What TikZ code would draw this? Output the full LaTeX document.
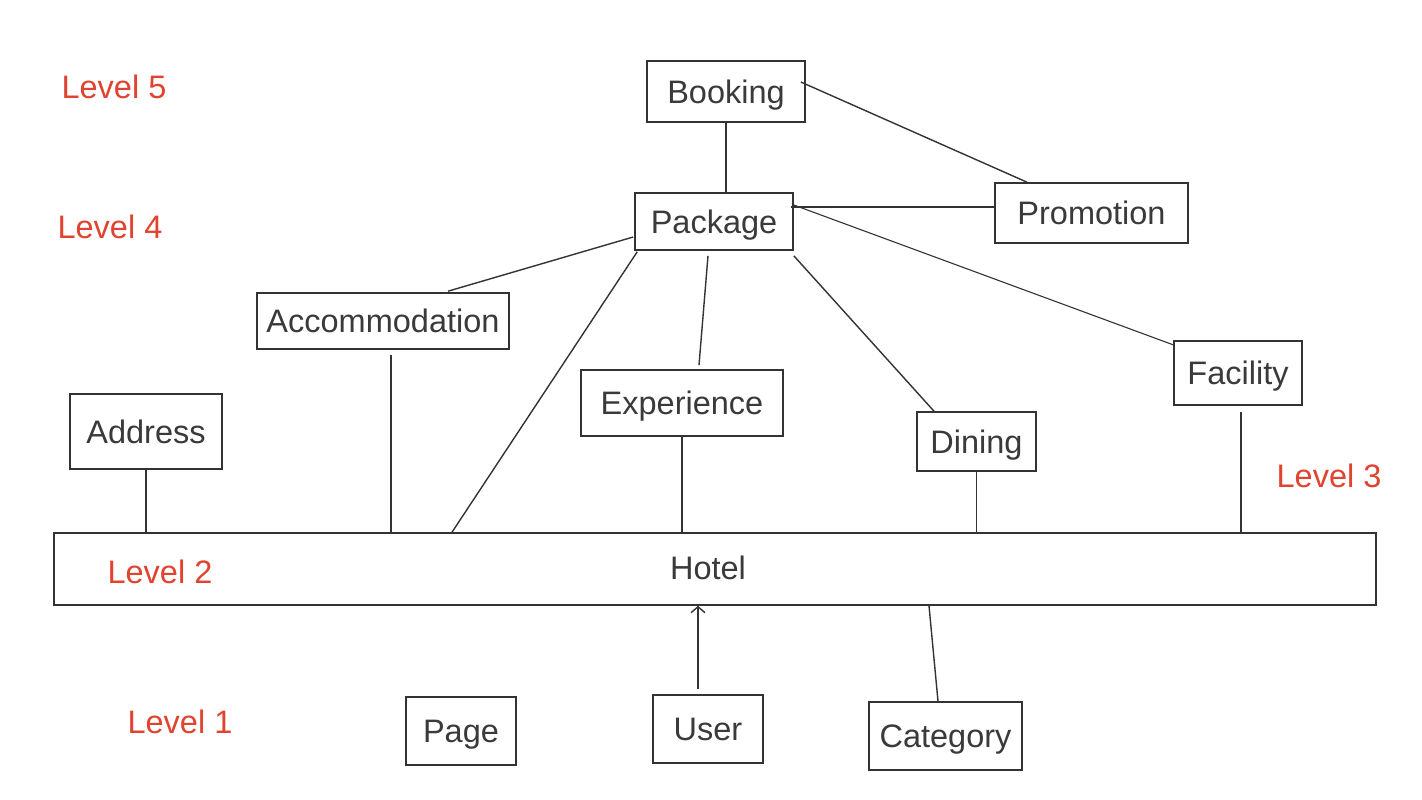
\documentclass[tikz,border=0pt]{standalone}
\usepackage{fontspec}
\setmainfont{Liberation Sans}
\usetikzlibrary{arrows.meta,calc}
\definecolor{linec}{HTML}{333333}
\definecolor{txt}{HTML}{3A3A3A}
\definecolor{redc}{HTML}{E0432F}
\begin{document}
\begin{tikzpicture}[x=1pt,y=-1pt,
  box/.style={draw=linec, line width=1.6pt, inner sep=0pt, text=txt, text depth=0pt,
    font=\fontsize{32.5}{38}\selectfont},
  lvl/.style={text=redc, inner sep=0pt, font=\fontsize{32.5}{38}\selectfont},
  conn/.style={draw=linec, line width=1.4pt}]
\fill[white] (0,0) rectangle (1422,800);
\useasboundingbox (0,0) rectangle (1422,800);

% boxes
\node[box, minimum width=158pt, minimum height=61pt] (bk) at (726,91.5) {Booking};
\node[box, minimum width=158pt, minimum height=57pt] (pk) at (714,221.5) {Package};
\node[box, minimum width=193pt, minimum height=60pt] (pr) at (1091.5,213) {Promotion};
\node[box, minimum width=252pt, minimum height=56pt] (ac) at (383,321) {Accommodation};
\node[box, minimum width=152pt, minimum height=75pt] (ad) at (146,431.5) {Address};
\node[box, minimum width=202pt, minimum height=66pt] (ex) at (682,403) {Experience};
\node[box, minimum width=119pt, minimum height=59pt] (di) at (976.5,441.5) {Dining};
\node[box, minimum width=128pt, minimum height=64pt] (fa) at (1238,373) {Facility};
\node[box, minimum width=1322pt, minimum height=72pt] (ho) at (715,569) {};
\node[text=txt, inner sep=0pt, font=\fontsize{32.5}{38}\selectfont] (hot) at (708,568) {Hotel};
\node[box, minimum width=110pt, minimum height=68pt] (pg) at (461,731) {Page};
\node[box, minimum width=110pt, minimum height=68pt] (us) at (708,729) {User};
\node[box, minimum width=153pt, minimum height=68pt] (ca) at (945.5,736) {Category};

% level labels
\node[lvl] (l5) at (114,87) {Level 5};
\node[lvl] (l4) at (110,227) {Level 4};
\node[lvl] (l3) at (1329,476) {Level 3};
\node[lvl] (l2) at (160,572) {Level 2};
\node[lvl] (l1) at (180,722) {Level 1};

% helper coordinates
\coordinate (a1) at ([shift={(8,5)}]ac.south);
\coordinate (f1) at ([shift={(3,6)}]fa.south);
\coordinate (u1) at ([shift={(-10,-5)}]us.north);

% connectors
\draw[conn] (bk.south) -- (bk.south |- pk.north);
\draw[conn] ([shift={(-64.5,0)}]pr.north) -- ([shift={(-5,-9.5)}]bk.east);
\draw[conn] ([shift={(0,-6)}]pr.west) -- ([shift={(-3,-14.5)}]pk.east);
\draw[conn, line width=1.1pt] ([shift={(0,-16.5)}]pk.east) -- ([shift={(1,5)}]fa.north west);
\draw[conn] ([shift={(0,5)}]pk.south east) -- ([shift={(-42.5,0)}]di.north);
\draw[conn] ([shift={(-6,5)}]pk.south) -- ([shift={(17,-4)}]ex.north);
\draw[conn] ([shift={(3,1)}]pk.south west) -- ([shift={(-263,0)}]ho.north);
\draw[conn] ([shift={(-1,15.5)}]pk.west) -- ([shift={(65,-1)}]ac.north);
\draw[conn] (a1) -- (a1 |- ho.north);
\draw[conn] (ad.south) -- (ad.south |- ho.north);
\draw[conn] (ex.south) -- (ex.south |- ho.north);
\draw[conn] (di.south) -- (di.south |- ho.north);
\draw[conn] (f1) -- (f1 |- ho.north);
\draw[conn, -{Straight Barb[length=6pt,width=14pt,line width=1.4pt]}] (u1) -- (u1 |- ho.south);
\draw[conn] ([shift={(-7.5,0)}]ca.north) -- ([shift={(214,0)}]ho.south);
\end{tikzpicture}
\end{document}
